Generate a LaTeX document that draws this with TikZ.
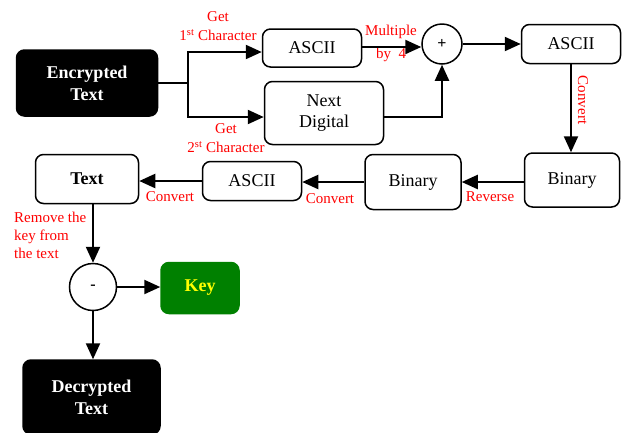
\documentclass[tikz,border=0pt]{standalone}
\usepackage{fontspec}
\setmainfont{Liberation Serif}
\usetikzlibrary{arrows.meta}
\definecolor{keygreen}{HTML}{008000}
\definecolor{keyyellow}{HTML}{FFFF00}
\begin{document}
\begin{tikzpicture}[x=1pt,y=-1pt,
 box/.style={draw, line width=1.5pt, rounded corners=8pt, font=\fontsize{18}{21}\selectfont, align=center, inner sep=0pt},
 blk/.style={box, fill=black, text=white, font=\fontsize{18}{22}\selectfont\bfseries},
 lbl/.style={text=red, font=\fontsize{15}{19}\selectfont, inner sep=0pt, align=center},
 arr/.style={line width=2.2pt, -{Triangle[length=16pt,width=14pt]}},
 ln/.style={line width=2.2pt},
 circ/.style={draw, circle, line width=1.5pt, inner sep=0pt, font=\fontsize{16}{18}\selectfont\bfseries}]
\useasboundingbox (0,0) rectangle (622,432);

% boxes
\node[blk, minimum width=141pt, minimum height=66pt] (enc) at (87,83) {Encrypted\\Text};
\node[box, minimum width=99pt, minimum height=38pt] (as1) at (312,48) {ASCII};
\node[box, minimum width=119pt, minimum height=63pt] (nd) at (324,113) {Next\\Digital};
\node[circ, minimum size=40pt] (plus) at (442,44) {+};
\node[box, minimum width=99pt, minimum height=39pt] (as2) at (571,44) {ASCII};
\node[box, minimum width=95pt, minimum height=54pt] (bin1) at (572,180) {Binary};
\node[box, minimum width=96pt, minimum height=55pt] (bin2) at (413,182) {Binary};
\node[box, minimum width=99pt, minimum height=39pt] (as3) at (252,181) {ASCII};
\node[box, font=\fontsize{18}{21}\selectfont\bfseries, minimum width=103pt, minimum height=49pt] (txt) at (87,179) {Text};
\node[circ, minimum size=47pt] (minus) at (93,287) {-};
\node[box, fill=keygreen, draw=keygreen, text=keyyellow, font=\fontsize{18}{21}\selectfont\bfseries, minimum width=78pt, minimum height=51pt] (key) at (200,288) {Key};
\node[blk, minimum width=137pt, minimum height=74pt] (dec) at (91.5,397) {Decrypted\\Text};

% labels
\node[lbl] (l1) at (218,26) {Get\\1\textsuperscript{st} Character};
\node[lbl] (l2) at (226,138) {Get\\2\textsuperscript{st} Character};
\node[lbl, font=\fontsize{15}{23}\selectfont] (l3) at (391,43) {Multiple\\by\ \ 4};
\node[lbl, rotate=-90] (l4) at (583,100) {Convert};
\node[lbl] (l5) at (490,197) {Reverse};
\node[lbl] (l6) at (330,199) {Convert};
\node[lbl] (l7) at (170,197) {Convert};
\node[lbl, align=left, anchor=west, font=\fontsize{15}{18}\selectfont] (l8) at (14,235) {Remove the\\key from\\the text};

% connectors
\coordinate (br) at (188,83);
\draw[ln] (enc.east) -- (br);
\draw[arr] (br) |- ([yshift=-4pt]as1.west);
\draw[arr] (br) |- ([yshift=-4pt]nd.west);
\draw[arr] ([yshift=1pt]as1.east) -- ([yshift=1pt]as1.east -| plus.west);
\draw[arr] ([yshift=-4pt]nd.east) -| (plus.south);
\draw[arr] (plus.east) -- (as2.west);
\draw[arr] (as2.south) -- (as2.south |- bin1.north);
\draw[arr] (bin1.west |- bin2.east) -- (bin2.east);
\draw[arr] (bin2.west) -- (bin2.west -| as3.east);
\draw[arr] (as3.west) -- (as3.west -| txt.east);
\draw[arr] (txt.south -| minus) -- (minus.north);
\draw[arr] (minus.east) -- (minus.east -| key.west);
\draw[arr] (minus.south) -- (minus.south |- dec.north);
\end{tikzpicture}
\end{document}
